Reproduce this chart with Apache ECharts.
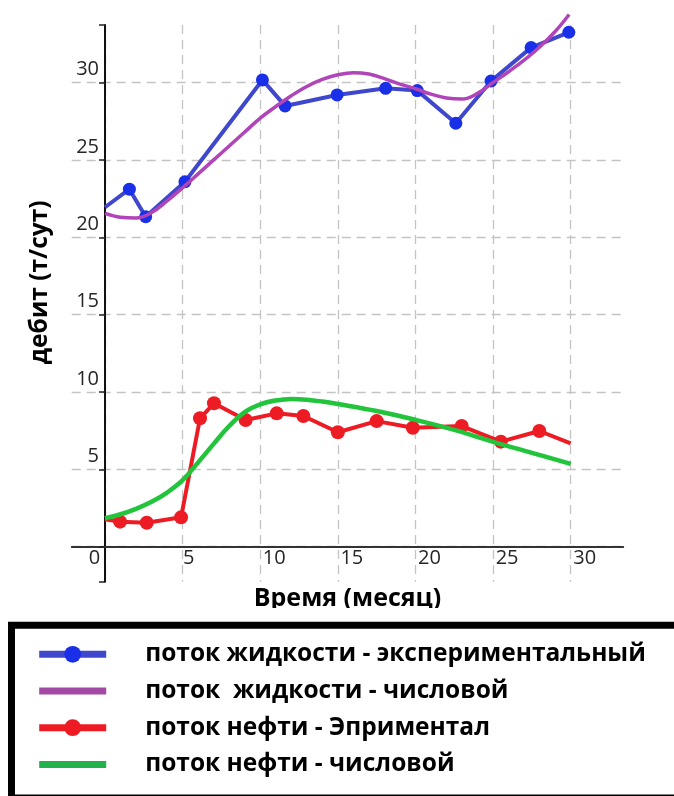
<!DOCTYPE html>
<html>
<head>
<meta charset="utf-8">
<script src="https://cdn.jsdelivr.net/npm/echarts@6/dist/echarts.min.js"></script>
<style>
html,body{margin:0;padding:0;background:#fff;}
#chart{width:674px;height:796px;}
</style>
</head>
<body>
<div id="chart"></div>
<script>
// ---- data ----
var seriesNames = [
  'поток жидкости - экспериментальный',
  'поток  жидкости - числовой',
  'поток нефти - Эприментал',
  'поток нефти - числовой'
];
var liquidExpX = [0, 1.57, 2.62, 5.15, 10.14, 11.6, 14.95, 18.08, 20.12, 22.6, 24.87, 27.45, 29.88];
var liquidExpY = [21.94, 23.11, 21.33, 23.59, 30.17, 28.49, 29.2, 29.63, 29.48, 27.37, 30.1, 32.26, 33.25];
var liquidNumX = [0, 1, 2, 3, 4, 5, 6, 7, 8, 9, 10, 11, 12, 13, 14, 15, 16, 17, 18, 19, 20, 21, 22, 23, 24, 25, 26, 27, 28, 29, 29.9];
var liquidNumY = [21.55, 21.3, 21.25, 21.6, 22.35, 23.2, 24.1, 25.0, 25.9, 26.8, 27.7, 28.45, 29.15, 29.75, 30.2, 30.5, 30.64, 30.55, 30.25, 29.9, 29.6, 29.25, 29.0, 28.93, 29.3, 30.0, 30.7, 31.45, 32.3, 33.3, 34.4];
var oilExpX = [0, 0.97, 2.69, 4.9, 6.12, 7.02, 9.06, 11.06, 12.78, 15.0, 17.5, 19.83, 22.98, 25.5, 27.98, 30];
var oilExpY = [1.77, 1.62, 1.55, 1.9, 8.3, 9.27, 8.19, 8.62, 8.45, 7.4, 8.12, 7.69, 7.8, 6.79, 7.48, 6.68];
var oilNumX = [0, 1, 2, 3, 4, 5, 6, 7, 8, 9, 10, 11, 12, 13, 14, 15, 17.5, 20, 22.5, 25, 27.5, 30];
var oilNumY = [1.84, 2.1, 2.45, 2.9, 3.5, 4.3, 5.45, 6.65, 7.8, 8.7, 9.2, 9.45, 9.55, 9.5, 9.38, 9.22, 8.77, 8.2, 7.55, 6.78, 6.07, 5.35];
var xTickLabels = [0, 5, 10, 15, 20, 25, 30];
var yTickLabels = [5, 10, 15, 20, 25, 30];
var xAxisName = 'Время (месяц)';
var yAxisName = 'дебит (т/сут)';

function pairs(xs, ys, hideFirst, hideLast) {
  return xs.map(function (x, i) {
    var item = { value: [x, ys[i]] };
    if ((hideFirst && i === 0) || (hideLast && i === xs.length - 1)) item.symbol = 'none';
    return item;
  });
}

var FONT = "'Open Sans', 'Noto Sans', sans-serif";
var chart = echarts.init(document.getElementById('chart'), null, { renderer: 'canvas' });

var X_MIN = -2.146, X_MAX = 33.39, Y_MIN = -2.26, Y_MAX = 33.72;
var GRID = { left: 71.7, right: 50.7, top: 25, bottom: 214.3 };
var gridW = 674 - GRID.left - GRID.right, gridH = 796 - GRID.top - GRID.bottom;
// place the axis lines at value 0 of the other axis
var xAxisOffset = -gridH * (0 - Y_MIN) / (Y_MAX - Y_MIN);
var yAxisOffset = -gridW * (0 - X_MIN) / (X_MAX - X_MIN);

var BAR_ICON = 'path://M0,0 L67,0 L67,7 L0,7 Z';

var option = {
  backgroundColor: '#fff',
  animation: false,
  grid: { left: GRID.left, right: GRID.right, top: GRID.top, bottom: GRID.bottom, outerBoundsMode: 'none', containLabel: false },
  xAxis: {
    type: 'value',
    min: X_MIN, max: X_MAX,
    minInterval: 5, maxInterval: 5, splitNumber: 7,
    offset: xAxisOffset,
    axisLine: { onZero: false, lineStyle: { color: '#333', width: 1.8 } },
    axisTick: { show: false },
    splitLine: { show: true, showMinLine: false, showMaxLine: false,
      lineStyle: { type: [9, 6], color: '#c4c4c4', width: 1.3 } },
    axisLabel: {
      margin: 2, align: 'center', color: '#262626', fontFamily: FONT, fontSize: 20,
      formatter: function (v) {
        if (xTickLabels.indexOf(v) < 0) return '';
        if (v === 0) return '{z|0}';
        return String(v).length > 1 ? '{n2|' + v + '}' : '{n1|' + v + '}';
      },
      rich: {
        z: { padding: [0, 21, 0, 0], fontSize: 20, fontFamily: FONT, color: '#262626' },
        n1: { padding: [0, 0, 0, 12], fontSize: 20, fontFamily: FONT, color: '#262626' },
        n2: { padding: [0, 0, 0, 28], fontSize: 20, fontFamily: FONT, color: '#262626' }
      }
    },
    name: xAxisName, nameLocation: 'middle', nameGap: 39.5, nameMoveOverlap: false,
    nameTextStyle: { fontSize: 25, fontWeight: 'bold', color: '#000', fontFamily: FONT }
  },
  yAxis: {
    type: 'value',
    min: Y_MIN, max: Y_MAX,
    minInterval: 5, maxInterval: 5, splitNumber: 7,
    offset: yAxisOffset,
    axisLine: { onZero: false, lineStyle: { color: '#111', width: 2 } },
    axisTick: { show: true, length: 6, lineStyle: { color: '#222', width: 1.5 } },
    splitLine: { show: true, showMinLine: false, showMaxLine: false,
      lineStyle: { type: [9, 6], color: '#c4c4c4', width: 1.3 } },
    axisLabel: {
      margin: 6, color: '#262626', fontFamily: FONT, fontSize: 20,
      verticalAlign: 'bottom', padding: [0, 0, 3, 0],
      formatter: function (v) { return yTickLabels.indexOf(v) < 0 ? '' : String(v); }
    },
    name: yAxisName, nameLocation: 'middle', nameGap: 52, nameMoveOverlap: false,
    nameTextStyle: { fontSize: 24.5, fontWeight: 'bold', color: '#000', fontFamily: FONT, padding: [0, 0, 0, 42] }
  },
  legend: {
    orient: 'vertical', left: 11.5, top: 625.3, height: 320,
    padding: [16.5, 70, 21, 24.2],
    itemWidth: 67, itemHeight: 21, itemGap: 11.7,
    borderColor: '#000', borderWidth: 7, backgroundColor: '#fff',
    lineStyle: { width: 7 },
    textStyle: { fontSize: 24.5, fontWeight: 'bold', color: '#000', fontFamily: FONT, padding: [0, 0, 0, 34] },
    data: [
      { name: seriesNames[0] },
      { name: seriesNames[1], icon: BAR_ICON },
      { name: seriesNames[2] },
      { name: seriesNames[3], icon: BAR_ICON }
    ],
    z: 60
  },
  graphic: [{
    type: 'rect', left: 0, top: 608, z: 50,
    shape: { width: 674, height: 14 },
    style: { fill: '#fff' }
  }],
  series: [
    {
      name: seriesNames[0], type: 'line', z: 2,
      data: pairs(liquidExpX, liquidExpY, true, false),
      symbol: 'circle', symbolSize: 13, showSymbol: true,
      lineStyle: { color: '#3F48CC', width: 4 },
      itemStyle: { color: '#1a30e8' }
    },
    {
      name: seriesNames[1], type: 'line', z: 3,
      data: pairs(liquidNumX, liquidNumY), smooth: 0.4, symbol: 'none', clip: false,
      lineStyle: { color: '#B044B8', width: 3.5 },
      itemStyle: { color: '#A349A4' }
    },
    {
      name: seriesNames[2], type: 'line', z: 4,
      data: pairs(oilExpX, oilExpY, true, true),
      symbol: 'circle', symbolSize: 14, showSymbol: true,
      lineStyle: { color: '#ED1C24', width: 4 },
      itemStyle: { color: '#ED1C24' }
    },
    {
      name: seriesNames[3], type: 'line', z: 5,
      data: pairs(oilNumX, oilNumY), smooth: 0.4, symbol: 'none',
      lineStyle: { color: '#22C43C', width: 4.5 },
      itemStyle: { color: '#22B14C' }
    }
  ]
};
chart.setOption(option);
</script>
</body>
</html>
